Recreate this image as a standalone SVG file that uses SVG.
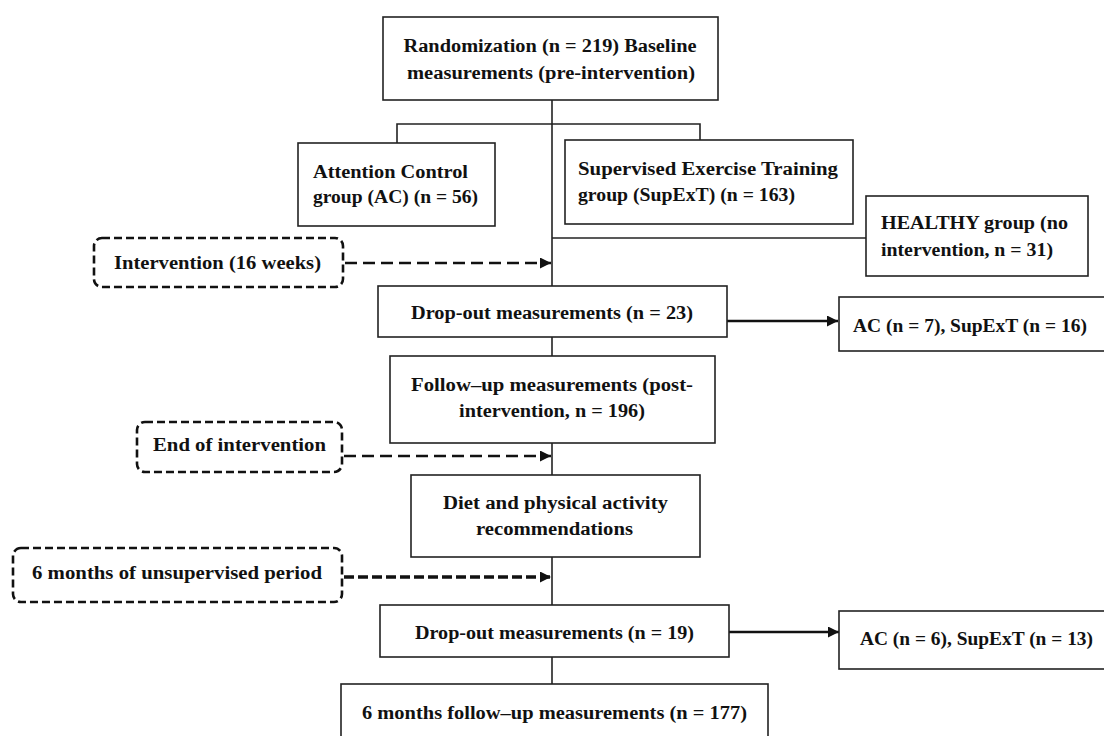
<svg xmlns="http://www.w3.org/2000/svg" width="1104" height="736" viewBox="0 0 1104 736">
<defs>
<style>
.box{fill:#fff;stroke:#222;stroke-width:1.6}
.dbox{fill:#fff;stroke:#111;stroke-width:2.6;stroke-dasharray:8 4}
.ln{fill:none;stroke:#222;stroke-width:1.6}
.thick{fill:none;stroke:#111;stroke-width:2.6}
.dash{fill:none;stroke:#111;stroke-width:2.6;stroke-dasharray:12 6}
.dash2{fill:none;stroke:#111;stroke-width:3.6;stroke-dasharray:10 4}
text{font-family:"Liberation Serif","Times New Roman",serif;font-weight:bold;font-size:18.5px;fill:#111}
.c{text-anchor:middle}
</style>
<marker id="ah" viewBox="0 0 10 10" refX="10" refY="5" markerWidth="13" markerHeight="11" markerUnits="userSpaceOnUse" orient="auto">
<path d="M0,0 L10,5 L0,10 Z" fill="#111"/>
</marker>
</defs>
<rect width="1104" height="736" fill="#fff"/>
<g id="connectors">
<line class="ln" x1="552" y1="100" x2="552" y2="684"/>
<polyline class="ln" points="397,143 397,124 700,124 700,140"/>
<line class="ln" x1="552" y1="238" x2="866" y2="238"/>
<line class="dash" x1="345" y1="263" x2="551" y2="263" marker-end="url(#ah)"/>
<line class="dash" x1="344" y1="456" x2="551" y2="456" marker-end="url(#ah)"/>
<line class="dash2" x1="344" y1="577" x2="551" y2="577" marker-end="url(#ah)"/>
<line class="thick" x1="727" y1="321" x2="838" y2="321" marker-end="url(#ah)"/>
<line class="thick" x1="729" y1="632" x2="839" y2="632" marker-end="url(#ah)"/>
</g>
<g id="randomization">
<rect class="box" x="383" y="17" width="335" height="83"/>
<text class="c" x="550" y="52" textLength="293" lengthAdjust="spacingAndGlyphs">Randomization (n = 219) Baseline</text>
<text class="c" x="551" y="79" textLength="288" lengthAdjust="spacingAndGlyphs">measurements (pre-intervention)</text>
</g>
<g id="ac-group">
<rect class="box" x="298" y="143" width="197" height="83"/>
<text x="313" y="178" textLength="155" lengthAdjust="spacingAndGlyphs">Attention Control</text>
<text x="313" y="203" textLength="165" lengthAdjust="spacingAndGlyphs">group (AC) (n = 56)</text>
</g>
<g id="supext-group">
<rect class="box" x="565" y="140" width="288" height="84"/>
<text x="578" y="175" textLength="260" lengthAdjust="spacingAndGlyphs">Supervised Exercise Training</text>
<text x="578" y="201" textLength="217" lengthAdjust="spacingAndGlyphs">group (SupExT) (n = 163)</text>
</g>
<g id="healthy-group">
<rect class="box" x="866" y="196" width="222" height="80"/>
<text x="881" y="229" textLength="187" lengthAdjust="spacingAndGlyphs">HEALTHY group (no</text>
<text x="881" y="256" textLength="172" lengthAdjust="spacingAndGlyphs">intervention, n = 31)</text>
</g>
<g id="intervention">
<rect class="dbox" x="94" y="238" width="249" height="49" rx="8"/>
<text x="114" y="269" textLength="207" lengthAdjust="spacingAndGlyphs">Intervention (16 weeks)</text>
</g>
<g id="dropout1">
<rect class="box" x="378" y="286" width="349" height="51"/>
<text x="411" y="319" textLength="282" lengthAdjust="spacingAndGlyphs">Drop-out measurements (n = 23)</text>
</g>
<g id="dropout1-detail">
<rect class="box" x="839" y="297" width="270" height="54"/>
<text x="853" y="332" textLength="234" lengthAdjust="spacingAndGlyphs">AC (n = 7), SupExT (n = 16)</text>
</g>
<g id="followup">
<rect class="box" x="390" y="356" width="325" height="87"/>
<text x="411" y="391" textLength="282" lengthAdjust="spacingAndGlyphs">Follow–up measurements (post-</text>
<text x="459" y="417" textLength="186" lengthAdjust="spacingAndGlyphs">intervention, n = 196)</text>
</g>
<g id="end-intervention">
<rect class="dbox" x="137" y="422" width="205" height="50" rx="8"/>
<text x="153" y="451" textLength="173" lengthAdjust="spacingAndGlyphs">End of intervention</text>
</g>
<g id="diet">
<rect class="box" x="411" y="475" width="289" height="82"/>
<text x="443" y="509" textLength="225" lengthAdjust="spacingAndGlyphs">Diet and physical activity</text>
<text x="476" y="535" textLength="157" lengthAdjust="spacingAndGlyphs">recommendations</text>
</g>
<g id="unsupervised">
<rect class="dbox" x="13" y="548" width="329" height="54" rx="8"/>
<text x="32" y="579" textLength="290" lengthAdjust="spacingAndGlyphs">6 months of unsupervised period</text>
</g>
<g id="dropout2">
<rect class="box" x="380" y="605" width="349" height="52"/>
<text x="415" y="639" textLength="279" lengthAdjust="spacingAndGlyphs">Drop-out measurements (n = 19)</text>
</g>
<g id="dropout2-detail">
<rect class="box" x="839" y="611" width="270" height="58"/>
<text x="860" y="645" textLength="233" lengthAdjust="spacingAndGlyphs">AC (n = 6), SupExT (n = 13)</text>
</g>
<g id="final-followup">
<rect class="box" x="341" y="684" width="427" height="70"/>
<text x="362" y="719" textLength="385" lengthAdjust="spacingAndGlyphs">6 months follow–up measurements (n = 177)</text>
</g>
</svg>
